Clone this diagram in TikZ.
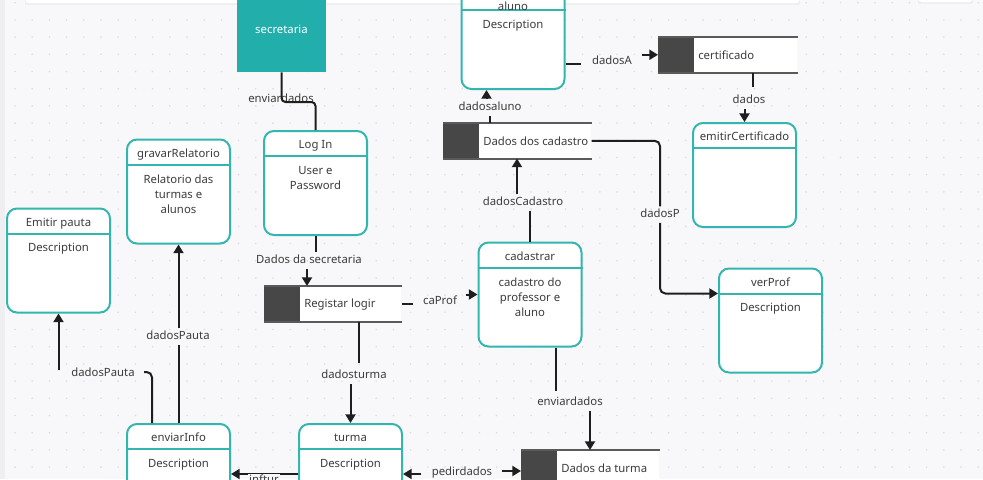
\documentclass[tikz,border=0pt]{standalone}
\usepackage{fontspec}
\setmainfont{Noto Sans}
\usetikzlibrary{arrows.meta,positioning,calc}
\definecolor{canvas}{HTML}{F8F8FA}
\definecolor{griddot}{HTML}{DCDCE2}
\definecolor{leftstrip}{HTML}{EFEFF2}
\definecolor{tealline}{HTML}{33B5B0}
\definecolor{tealfill}{HTML}{22AEAA}
\definecolor{darkblock}{HTML}{474747}
\definecolor{storegray}{HTML}{5A5A5A}
\definecolor{flowline}{HTML}{1E1E1E}
\definecolor{textgray}{HTML}{3C3C3C}

\begin{document}
\begin{tikzpicture}[x=0.75pt,y=-0.75pt,
	every node/.style={font=\fontsize{8.5}{11.25}\selectfont, text=textgray},
	procbox/.style={draw=tealline, line width=1.5pt, rounded corners=7.5pt, fill=white, minimum width=77.25pt, minimum height=78pt, inner sep=0pt},
	headline/.style={draw=tealline, line width=1.5pt},
	boxtitle/.style={inner sep=0pt, text height=6.2pt, text depth=1.8pt, yshift=-2pt},
	boxbody/.style={align=center, anchor=north, inner sep=0pt, yshift=-2pt},
	extent/.style={fill=tealfill, minimum width=66.75pt, minimum height=64.5pt, inner sep=0pt},
	storebox/.style={fill=white, minimum height=26.25pt, inner sep=0pt, anchor=north west},
	storeline/.style={draw=storegray, line width=1.5pt},
	storetext/.style={anchor=west, inner sep=0pt, yshift=-0.5pt},
	flow/.style={draw=flowline, line width=1.5pt},
	arr/.style={flow, -{Triangle[length=6.5pt,width=7.5pt]}},
	flowlabel/.style={inner sep=2pt, text height=6.2pt, text depth=1.8pt, yshift=-2pt}]
	\useasboundingbox (0,0) rectangle (983,479);
	\clip (0,0) rectangle (983,479);
	\fill[canvas] (0,0) rectangle (983,479);
	\fill[leftstrip] (0,0) rectangle (5,479);
	\foreach \i in {0,...,56}{
		\foreach \j in {0,...,27}{
			\fill[griddot] (15+17.2*\i,2.7+17.2*\j) circle (0.9);
		}
	}
	\fill[leftstrip] (25,-10) rectangle (800,5);
	\fill[white, rounded corners=3pt] (25,-10) rectangle (800,3);
	\fill[leftstrip] (918,-10) rectangle (973,4);
	\fill[white, rounded corners=3pt] (918,-10) rectangle (973,2);

	\node[extent] (sec) at (281.5,29) {};
	\node[text=white] (sec-t) at (sec) {secretaria};

	\foreach \n/\x/\y/\t/\b in {
		login/315.5/183/{Log In}/{User e\\Password},
		grav/178.5/191.5/gravarRelatorio/{Relatorio das\\turmas e\\alunos},
		epauta/58.5/260.5/{Emitir pauta}/Description,
		cad/530/294.5/cadastrar/{cadastro do\\professor e\\aluno},
		verprof/770.5/320.5/verProf/Description,
		emit/744.5/175/emitirCertificado/{},
		envinfo/178.5/476/enviarInfo/Description,
		turma/350.5/476/turma/Description}{
		\node[procbox] (\n) at (\x,\y) {};
		\draw[headline] ($(\n.north west)+(0,26)$) -- ($(\n.north east)+(0,26)$);
		\node[boxtitle] (\n-t) at ($(\n.north)+(0,13)$) {\t};
		\node[boxbody] (\n-b) at ($(\n.north)+(0,33)$) {\b};
	}
	\node[procbox] (aluno) at (513,37) {};
	\draw[headline] ($(aluno.north west)+(0,26)$) -- ($(aluno.north east)+(0,26)$);
	\node[boxtitle] (aluno-t) at ($(aluno.north)+(0,21)$) {aluno};
	\node[boxbody] (aluno-b) at ($(aluno.north)+(0,33)$) {Description};

	\foreach \n/\x/\y/\w/\t in {
		reg/264/286/102.75/Registar logir,
		dcad/443/123/111/Dados dos cadastro,
		cert/658/37/104.25/certificado,
		dtur/521/450/103.5/Dados da turma}{
		\node[storebox, minimum width=\w pt] (\n) at (\x,\y) {};
		\fill[darkblock] (\n.north west) rectangle ($(\n.south west)+(36,0)$);
		\draw[storeline] (\n.north west) -- (\n.north east) (\n.south west) -- (\n.south east);
		\node[storetext] (\n-t) at ($(\n.west)+(40,0)$) {\t};
	}

	\node[flowlabel] (l-env1) at (281,97) {enviardados};
	\node[flowlabel] (l-dsec) at (309,258) {Dados da secretaria};
	\node[flowlabel] (l-caprof) at (440,299) {caProf};
	\node[flowlabel] (l-dcad) at (523,200) {dadosCadastro};
	\node[flowlabel] (l-daluno) at (490,105) {dadosaluno};
	\node[flowlabel] (l-dadosa) at (612,59) {dadosA};
	\node[flowlabel] (l-dados) at (749,98) {dados};
	\node[flowlabel] (l-dadosp) at (660,212) {dadosP};
	\node[flowlabel] (l-env2) at (570,400) {enviardados};
	\node[flowlabel] (l-pedir) at (462,469.5) {pedirdados};
	\node[flowlabel] (l-dturma) at (354,373) {dadosturma};
	\node[flowlabel] (l-dp1) at (178,334) {dadosPauta};
	\node[flowlabel] (l-dp2) at (103,371) {dadosPauta};

	\draw[flow, rounded corners=3pt] (sec.south) |- ($(login.north)+(0,-28)$) -- (login.north);
	\draw[flow] (login.south) -- (login.south |- l-dsec.north);
	\coordinate (reg-in) at ($(reg.north west)+(43,0)$);
	\draw[arr] (reg-in |- l-dsec.south) -- (reg-in);
	\draw[flow] (reg.east) -- ++(11,0);
	\draw[arr] ($(cad.west)+(-12,0)$) -- (cad.west);
	\draw[flow] (cad.north) -- (cad.north |- l-dcad.south);
	\coordinate (dcad-in) at ($(dcad.south west)+(74,0)$);
	\draw[arr] (dcad-in |- l-dcad.north) -- (dcad-in);
	\draw[flow] ($(dcad.north west)+(47,0)$) -- ++(0,-7);
	\coordinate (aluno-in) at ($(aluno.south west)+(26,0)$);
	\draw[arr] (aluno-in |- l-daluno.north) -- (aluno-in);
	\draw[flow] ($(aluno.south east)+(0,-26)$) -- ++(15,0);
	\draw[arr] ($(cert.west)+(-16,0)$) -- (cert.west);
	\draw[flow] ($(cert.south west)+(95,0)$) -- ++(0,14);
	\draw[arr] (emit.north |- l-dados.south) -- (emit.north);
	\draw[flow, rounded corners=4pt] (dcad.east) -| (l-dadosp.north);
	\draw[arr, rounded corners=4pt] (l-dadosp.south) |- ($(verprof.north west)+(0,26)$);
	\draw[flow] ($(cad.south)+(26,0)$) -- ++(0,43);
	\coordinate (dtur-in) at ($(dtur.north west)+(69,0)$);
	\draw[arr] (dtur-in |- l-env2.south) -- (dtur-in);
	\coordinate (dtur-left) at ($(dtur.north west)+(0,21)$);
	\draw[arr] ($(dtur-left)+(-19,0)$) -- (dtur-left);
	\coordinate (turma-right) at ($(turma.north east)+(0,51)$);
	\draw[arr] ($(turma-right)+(18,0)$) -- (turma-right);
	\draw[arr] ($(turma.north west)+(0,51)$) -- ($(envinfo.north east)+(0,51)$);
	\node[flowlabel, fill=canvas, inner sep=1pt] (l-inftur) at (264,478) {inftur};
	\draw[flow] ($(reg.south west)+(95,0)$) -- ++(0,41);
	\draw[arr] (turma.north |- l-dturma.south) -- (turma.north);
	\draw[flow] (envinfo.north) -- (envinfo.north |- l-dp1.south);
	\draw[arr] (grav.south |- l-dp1.north) -- (grav.south);
	\draw[flow, rounded corners=4pt] ($(envinfo.north west)+(26,0)$) |- ++(-8,-51);
	\draw[arr] ($(epauta.south)+(0,56)$) -- (epauta.south);
\end{tikzpicture}
\end{document}
